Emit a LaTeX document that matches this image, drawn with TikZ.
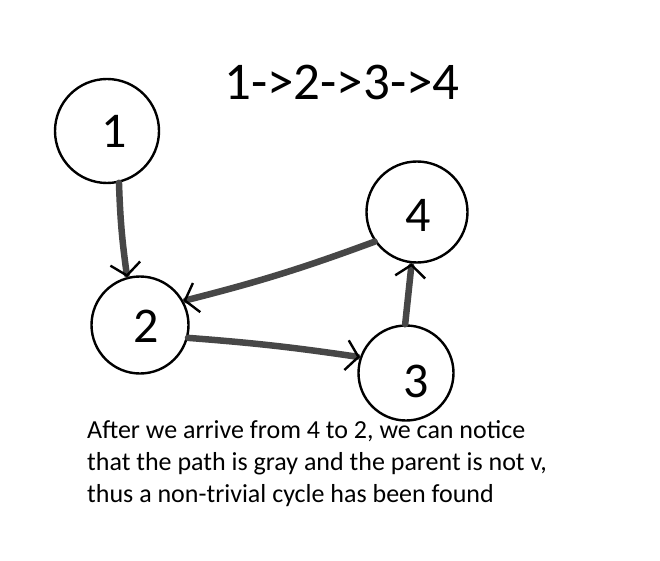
\documentclass[tikz,border=0pt]{standalone}
\usepackage{fontspec}
\setmainfont{Carlito}
\usetikzlibrary{arrows.meta}
\tikzset{
  vertex/.style={circle, draw=black, line width=2.4pt, minimum size=#1, inner sep=0pt},
  lbl/.style={font=\fontsize{50}{56}\selectfont, inner sep=0pt},
  edge/.style={draw=black!72, line width=6.5pt, line cap=round,
    -{Straight Barb[black, line width=2.4pt, length=12pt, width=30pt]}},
}
\begin{document}
\begin{tikzpicture}[x=1pt, y=-1pt]
\useasboundingbox (0,0) rectangle (660,561);
\node[font=\fontsize{53}{60}\selectfont] (title) at (342,82) {1->2->3->4};
\node[vertex=104pt, label={[lbl, xshift=7pt]center:1}] (n1) at (107,131) {};
\node[vertex=97pt, label={[lbl, xshift=6.5pt, yshift=-1.5pt]center:2}] (n2) at (140,325) {};
\node[vertex=95pt, label={[lbl, xshift=10pt, yshift=-8pt]center:3}] (n3) at (406,373) {};
\node[vertex=101pt, label={[lbl, xshift=1.5pt, yshift=-3.5pt]center:4}] (n4) at (417,212) {};
\draw[edge] (n1.-77) to[bend right=3] (n2.105);
\draw[edge] (n4.215) to[bend left=3] (n2.29);
\draw[edge] (n2.-15) to[bend left=2] (n3.161);
\draw[edge] (n3.91) -- (n4.-96);
\node[anchor=north west, align=left, inner sep=0pt, font=\fontsize{26}{32}\selectfont] (txt) at (87,420)
  {After we arrive from 4 to 2, we can notice\\that the path is gray and the parent is not v,\\thus a non-trivial cycle has been found};
\end{tikzpicture}
\end{document}
